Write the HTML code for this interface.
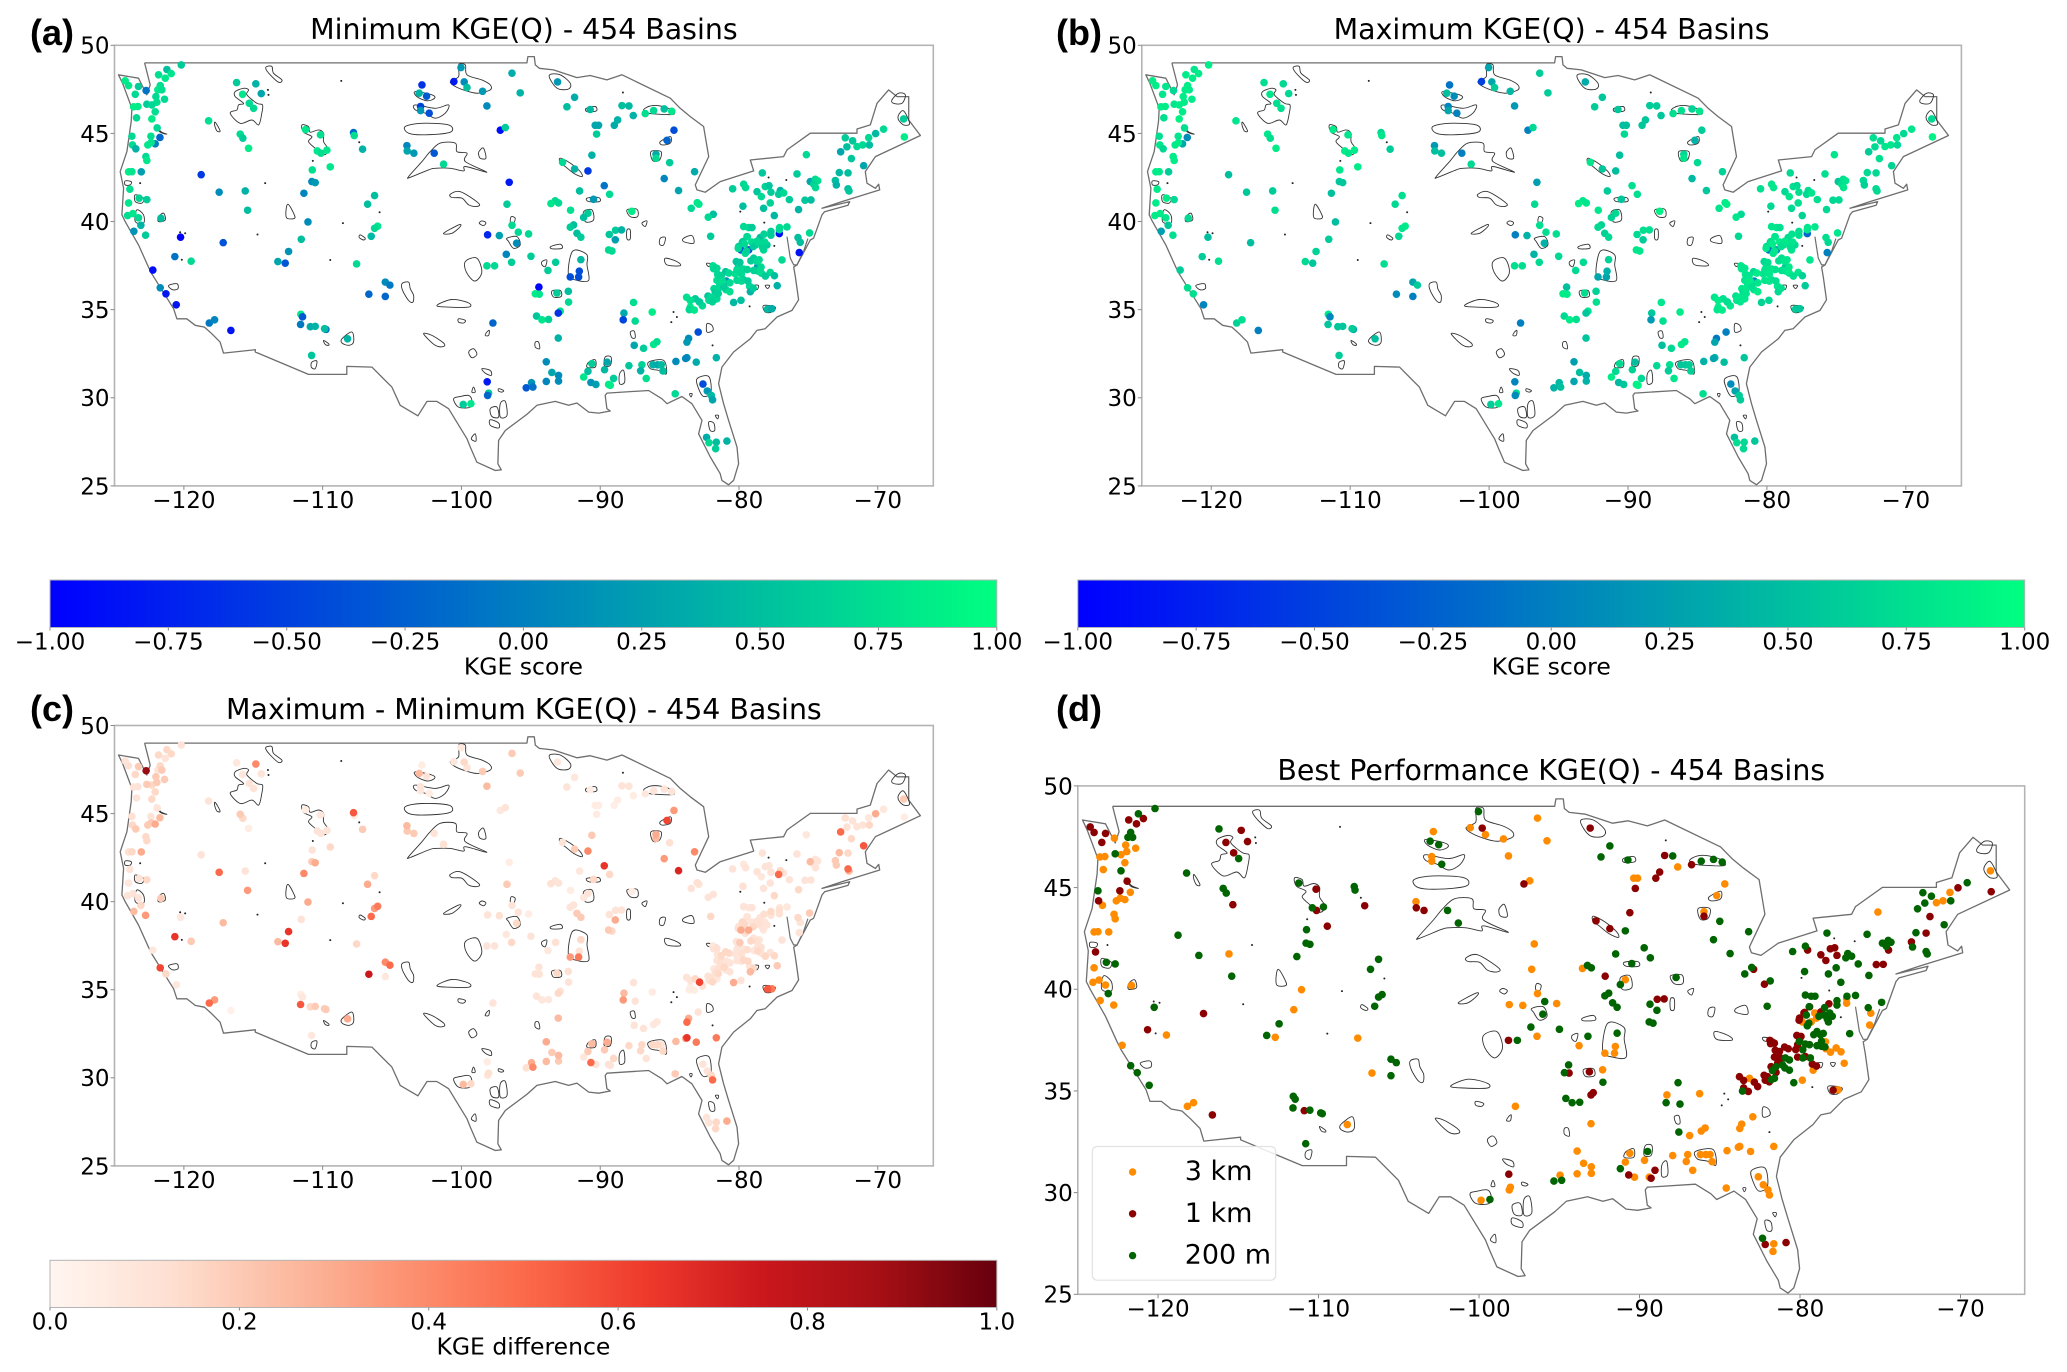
<!DOCTYPE html>
<html lang="en">
<head>
<meta charset="utf-8">
<title>KGE(Q) maps - 454 Basins</title>
<style>
html,body{margin:0;padding:0;background:#fff;}
svg{display:block;}
text{font-family:"DejaVu Sans","Liberation Sans",sans-serif;fill:#000;}
.panel-letter{font-family:"Liberation Sans",sans-serif;font-weight:bold;font-size:36px;}
</style>
</head>
<body>
<svg id="figure" xmlns="http://www.w3.org/2000/svg" width="2067" height="1372" viewBox="0 0 2067 1372">
<rect x="0" y="0" width="2067" height="1372" fill="#fff"/>
<defs id="gradients"></defs>
</svg>
<script>
// ---- chart data (longitude / latitude in degrees, KGE values per basin) ----
const siteLon = [
-120.26,-121.29,-121.89,-120.98,-121.41,-124.28,-124.04,-123.33,-122.78,-121.77,
-121.94,-121.65,-123.56,-122.08,-121.46,-122.01,-122.73,-122.37,-123.68,-123.37,
-122.13,-122.37,-123.47,-121.99,-123.80,-122.44,-121.79,-122.13,-122.42,-122.66,
-123.76,-123.52,-122.80,-122.73,-124.04,-123.80,-123.13,-123.95,-123.28,-122.73,
-124.04,-124.11,-123.73,-123.33,-121.72,-123.16,-123.66,-122.82,-120.31,-120.72,
-119.55,-117.25,-116.29,-114.91,-115.86,-114.52,-115.38,-115.07,-118.30,-116.03,
-115.84,-115.43,-118.83,-117.54,-115.67,-115.50,-111.34,-110.27,-110.50,-110.24,
-109.81,-110.86,-109.57,-110.89,-110.65,-111.46,-111.17,-111.65,-112.56,-113.33,
-112.80,-107.90,-107.85,-107.25,-106.39,-106.89,-106.17,-106.39,-106.63,-107.68,
-102.99,-103.19,-102.66,-103.09,-103.09,-102.47,-104.07,-104.05,-103.57,-102.11,
-101.44,-100.19,-100.70,-99.96,-99.76,-98.64,-98.33,-96.53,-95.94,-97.37,
-97.01,-96.73,-96.89,-96.53,-96.08,-98.28,-97.44,-96.20,-96.94,-96.56,
-98.33,-97.78,-122.30,-121.77,-121.36,-120.62,-118.25,-117.87,-116.70,-111.68,
-111.56,-111.70,-111.00,-110.65,-109.88,-109.98,-108.33,-110.91,-105.62,-105.29,
-106.80,-105.62,-97.90,-98.31,-98.21,-98.28,-100.03,-99.48,-95.51,-93.26,
-92.04,-92.59,-90.92,-88.64,-88.14,-88.95,-89.19,-87.83,-90.56,-90.32,
-90.46,-86.97,-86.37,-85.61,-85.07,-84.91,-85.41,-90.80,-92.90,-92.04,
-91.08,-86.20,-86.20,-85.22,-83.43,-85.61,-84.58,-89.91,-91.68,-89.53,
-90.68,-93.43,-93.74,-93.19,-92.33,-91.08,-91.39,-87.93,-92.11,-92.35,
-91.87,-91.59,-95.34,-89.10,-88.67,-89.55,-89.12,-89.60,-89.36,-95.17,
-93.40,-91.59,-83.24,-83.12,-83.67,-82.09,-82.45,-82.28,-80.70,-79.91,
-79.77,-79.96,-78.57,-76.08,-75.41,-78.95,-78.36,-78.09,-78.64,-77.95,
-78.00,-78.48,-77.28,-77.40,-77.04,-76.63,-77.71,-75.97,-75.51,-75.08,
-75.13,-74.77,-74.60,-74.89,-74.75,-79.91,-79.55,-79.31,-78.72,-77.95,
-77.33,-76.80,-77.35,-76.01,-75.85,-75.18,-75.92,-79.67,-79.96,-80.27,
-80.10,-79.55,-79.79,-79.07,-78.48,-78.24,-80.44,-79.19,-79.39,-78.91,
-80.27,-77.16,-82.11,-72.62,-72.09,-72.50,-71.78,-71.37,-70.89,-70.94,
-70.44,-69.87,-68.43,-68.38,-72.95,-72.18,-71.30,-73.05,-72.42,-73.33,
-73.26,-72.42,-72.35,-93.95,-92.35,-91.75,-91.70,-94.60,-94.86,-94.57,
-93.31,-92.49,-92.47,-93.07,-93.21,-94.77,-94.38,-93.91,-93.21,-95.13,
-95.03,-94.07,-93.67,-93.19,-93.19,-94.07,-90.80,-91.08,-90.87,-90.51,
-91.39,-89.70,-89.89,-89.24,-89.60,-89.48,-87.81,-88.50,-88.55,-86.47,
-87.69,-87.76,-87.09,-86.37,-86.13,-88.14,-87.21,-87.30,-86.90,-86.42,
-86.08,-85.82,-85.70,-84.77,-83.98,-84.07,-83.31,-81.87,-83.86,-83.98,
-83.17,-82.83,-82.52,-82.23,-82.14,-84.82,-82.57,-82.40,-81.87,-81.92,
-81.11,-84.00,-83.38,-83.07,-83.74,-83.81,-83.45,-82.47,-82.40,-82.02,
-81.83,-82.04,-81.95,-81.83,-81.63,-81.18,-81.20,-80.63,-80.10,-81.15,
-80.39,-79.91,-79.48,-79.43,-80.51,-80.39,-79.91,-79.19,-78.64,-78.00,
-77.50,-78.19,-77.88,-82.07,-81.78,
-81.83,-81.52,-81.62,-81.42,-81.73,-81.32,-80.90,-80.90,-81.73,-80.28,
-80.07,-79.65,-80.07,-79.60,-80.18,-80.97,-79.22,-78.97,-78.80,-78.90,
-78.70,-78.66,-78.35,-77.70,-79.65,-80.00,-80.30,-79.70,-79.85,-79.33,
-79.22,-78.95,-78.45,-78.75,-78.40,-78.55,-77.95,-77.35,-82.26,-82.15,
-83.74,-82.87,-83.10];
const siteLat = [
48.91,48.65,48.35,48.42,48.16,48.01,47.74,47.69,47.46,47.74,
47.50,47.50,47.25,47.12,46.97,46.80,46.69,46.65,46.54,46.56,
46.26,45.86,45.92,45.35,44.88,44.88,44.81,44.45,44.52,44.39,
44.39,44.17,43.73,43.51,42.87,42.88,42.87,41.89,41.38,41.30,
41.11,40.40,40.51,40.27,40.25,39.85,39.51,39.29,39.18,38.08,
37.82,38.87,47.91,47.84,47.25,47.29,46.74,46.46,45.75,45.00,
44.77,44.20,42.71,41.72,41.79,40.70,45.26,44.96,44.05,43.92,
44.09,42.98,43.15,42.32,42.26,41.66,40.04,39.06,38.37,37.80,
37.71,45.09,44.92,44.15,41.53,41.04,39.80,39.68,39.23,37.67,
47.78,47.31,47.14,46.56,46.33,46.18,44.35,44.05,43.92,43.92,
43.30,48.76,47.97,47.95,47.63,47.42,46.59,48.44,47.33,45.22,
45.37,42.28,41.04,39.85,39.46,39.31,39.27,38.84,38.21,37.76,
37.56,37.56,37.32,36.32,35.98,35.36,34.33,34.51,33.91,34.82,
34.68,34.25,34.12,34.14,33.97,34.01,33.44,32.50,36.64,36.47,
35.96,35.83,34.33,31.01,30.37,30.24,29.73,29.77,30.67,47.95,
47.08,46.54,46.39,46.61,46.59,45.80,45.50,46.05,45.50,45.50,
45.00,46.16,46.33,46.42,46.29,45.22,44.65,43.81,43.41,43.03,
42.92,43.86,43.64,43.39,42.88,42.49,41.81,42.09,41.79,41.60,
41.32,41.23,41.08,41.11,40.70,40.53,40.29,40.64,39.87,39.74,
39.40,39.18,39.36,39.57,39.59,39.33,39.03,38.46,38.40,38.10,
37.76,37.91,41.13,41.04,40.81,40.47,40.31,39.23,41.91,42.17,
41.98,40.93,42.81,42.75,43.84,41.75,42.04,42.09,41.47,41.72,
41.11,40.81,41.81,41.60,41.68,41.30,40.40,40.74,41.27,41.28,
42.32,42.45,42.36,42.17,41.98,39.78,39.72,39.72,39.16,39.29,
39.72,39.76,39.38,39.16,38.89,39.42,38.31,39.21,38.93,38.65,
38.46,38.46,38.27,38.74,38.46,38.74,37.80,37.99,37.84,37.52,
37.56,37.89,37.56,44.79,44.62,44.28,44.30,44.39,44.39,44.80,
45.03,45.28,45.86,44.84,44.00,43.62,43.22,42.83,42.81,42.38,
42.13,41.91,41.79,37.30,36.93,36.93,37.26,36.36,35.98,35.96,
36.02,36.12,35.51,35.00,34.89,34.72,34.51,34.53,33.48,30.96,
30.71,32.14,31.54,31.37,31.05,31.03,32.03,31.60,30.97,30.86,
31.28,32.12,31.69,31.20,30.86,30.81,35.49,34.89,34.51,34.95,
34.44,33.07,32.90,33.12,33.27,31.92,31.97,31.63,31.20,31.97,
31.97,31.97,31.62,32.16,32.37,32.33,32.12,32.37,33.46,33.25,
33.82,30.88,30.49,30.24,29.99,30.33,27.87,27.57,27.60,27.23,
27.66,35.78,35.70,35.51,35.23,35.08,35.06,35.85,35.61,35.64,
35.70,36.27,36.08,36.74,36.45,36.21,37.23,35.49,35.61,36.70,
36.74,36.77,36.40,36.10,37.11,37.34,37.38,37.30,37.15,37.19,
36.44,35.12,35.14,37.40,37.08,
37.42,37.01,36.68,36.68,36.27,36.35,36.60,36.10,35.99,37.50,
37.10,37.35,36.70,36.70,37.75,37.15,36.30,37.83,37.90,37.27,
37.24,37.49,36.98,37.00,39.20,38.90,38.55,38.40,38.80,38.90,
38.65,38.95,39.35,38.80,38.90,38.60,39.50,39.60,35.78,35.53,
35.60,35.30,35.53];
const kgeMin = [
.6,.5,.75,.8,.8,.85,.8,.6,-.1,.75,
.8,.75,.7,.7,.7,.75,.6,.7,.85,.85,
.75,.85,.7,.7,.7,.75,-.2,0,.8,.8,
.7,.4,.7,.8,.85,.8,.25,.75,.65,.6,
.8,.75,.8,.7,.5,.4,.15,.6,-1,-.1,
.7,-.35,.6,.4,.8,.3,.7,.7,.75,.7,
.6,.85,-.55,.1,.4,.5,.8,.75,.8,.75,
.8,.75,.8,.1,.2,.05,.1,.5,.15,.3,
-.3,-.15,.75,.4,.5,.5,.8,.7,.45,.7,
-.6,.4,-.3,-.5,.2,-.4,.05,.3,.2,-.3,
.7,.2,-.8,.1,.5,.2,.1,.35,.4,-.9,
.6,-.8,.6,.7,.7,-.7,.25,.1,.05,.6,
.7,.7,-.9,.1,-.8,-.85,-.05,.05,-.85,.8,
-.3,-.05,.35,.4,-.1,.5,.4,.55,.1,-.05,
-.2,-.2,-.2,-.8,.6,-.2,.6,.8,-.3,.2,
.35,.5,.45,.5,.45,.4,.35,.4,.3,.3,
.6,.75,.7,.5,.8,-.4,-.2,.4,.7,.4,
-.55,.35,.7,.6,.35,.05,.3,-.1,.5,.7,
.2,.7,.8,.7,.75,.6,.5,.85,.5,.6,
.5,.6,.7,.6,.4,.55,.25,.7,.7,.6,
.6,.45,.8,.8,.7,.5,.7,.6,.6,.7,
.7,.5,.55,.6,.7,.55,.65,.55,.7,.6,
.65,.5,.4,.6,.7,.6,.45,.4,.55,.5,
.3,.7,.75,.65,.7,.7,.7,.6,.5,.6,
.75,.7,-.9,.5,.5,.7,-.85,.6,.5,.6,
-.3,-.5,.7,.55,.7,.6,.55,.6,.6,.2,
.2,.7,.75,.6,.55,.5,.7,.7,.5,.7,
.45,.7,.6,.85,.3,.55,.3,.45,.5,.5,
.4,.5,.55,.6,-.4,-.4,-.4,-.95,.85,.8,
.6,.5,.7,.75,-.6,.55,.8,.65,.4,.15,
-.1,.1,.3,.1,.1,.05,.6,.5,.15,.25,
.8,.3,.45,.6,.85,.85,.75,.35,-.45,.85,
.7,.3,.6,.8,.75,.55,.65,.4,.75,.4,
.35,.45,.5,.1,.15,.05,.35,.4,.1,.2,
-.4,-.4,.2,.45,.3,.7,.35,.7,.5,.6,
.4,.75,.6,.4,.8,.7,.8,.55,.7,.7,
.7,.7,.6,.75,.75,.75,.55,.45,.5,.1,
.7,.6,.7,.4,.75,.7,.7,.65,.6,.7,
.4,.45,.35,.7,.7,
.7,.65,.7,.75,.7,.6,.7,.75,.65,.7,
.7,.65,.7,.6,.55,.7,.6,.7,.7,.65,
.75,.7,.6,.5,.7,.6,.7,.65,.7,.75,
.6,.7,.65,.7,.7,.65,.6,.7,.7,.65,
.75,.7,.6];
const kgeMax = [
.85,.8,.85,.85,.85,.85,.85,.8,.7,.85,
.85,.85,.8,.85,.85,.85,.8,.85,.85,.85,
.85,.9,.75,.75,.75,.8,.1,.3,.85,.85,
.8,.7,.85,.85,.85,.85,.6,.85,.85,.7,
.85,.85,.85,.8,.7,.55,.25,.75,.5,.6,
.75,.5,.75,.7,.8,.7,.75,.75,.8,.8,
.75,.85,.5,.55,.6,.75,.85,.8,.85,.8,
.85,.8,.85,.55,.55,.5,.5,.6,.65,.7,
.55,.7,.8,.6,.75,.7,.85,.8,.7,.75,
-.1,.5,.1,.05,.3,0,.2,.5,.5,0,
.7,.3,-.5,.3,.6,.45,.2,.6,.6,0,
.7,.25,.7,.75,.75,0,.4,.4,.4,.7,
.75,.75,.6,.75,.75,.05,.65,.75,0,.8,
.05,.55,.55,.55,.3,.6,.5,.6,.3,.6,
.1,0,0,.05,.7,.1,.6,.8,.4,.35,
.55,.6,.55,.6,.6,.55,.55,.55,.5,.5,
.7,.75,.75,.65,.8,.6,.4,.5,.8,.55,
.5,.7,.8,.7,.65,.45,.55,.75,.6,.75,
.55,.8,.85,.8,.8,.7,.65,.9,.65,.7,
.65,.7,.75,.75,.75,.7,.6,.8,.8,.7,
.7,.65,.85,.85,.8,.7,.8,.7,.75,.8,
.8,.7,.7,.75,.8,.7,.75,.7,.8,.75,
.75,.7,.7,.7,.8,.75,.65,.7,.7,.7,
.55,.75,.8,.75,.8,.8,.8,.75,.7,.75,
.8,.8,-.2,.75,.7,.8,0,.75,.7,.7,
-.1,.1,.8,.7,.8,.7,.7,.75,.75,.6,
.6,.8,.8,.75,.7,.7,.8,.8,.7,.8,
.7,.8,.7,.9,.6,.75,.65,.7,.7,.7,
.65,.7,.7,.7,.3,.3,.4,.5,.85,.85,
.75,.65,.75,.8,.55,.7,.85,.75,.55,.45,
.5,.25,.5,.35,.4,.3,.7,.7,.45,.55,
.85,.5,.65,.7,.9,.9,.8,.55,.2,.85,
.75,.5,.7,.85,.8,.7,.75,.6,.8,.55,
.55,.6,.65,.4,.45,.3,.5,.55,-.05,.3,
0,.1,.3,.6,.6,.75,.5,.75,.7,.7,
.55,.8,.75,.65,.85,.8,.85,.75,.8,.8,
.8,.8,.75,.8,.8,.8,.7,.65,.7,.05,
.8,.75,.8,.7,.8,.8,.8,.75,.75,.8,
.6,.6,.55,.8,.8,
.82,.8,.82,.85,.82,.75,.8,.85,.8,.8,
.82,.78,.8,.75,.75,.85,.75,.82,.8,.8,
.85,.82,.75,.65,.8,.75,.82,.8,.85,.85,
.75,.82,.78,.82,.8,.75,.75,.82,.82,.8,
.85,.82,.75];
const kgeDiff = [
.1,.15,.15,.15,.1,.1,.12,.2,.9,.15,
.1,.2,.15,.2,.2,.2,.2,.15,.1,.1,
.15,.15,.1,.1,.12,.1,.25,.3,.2,.2,
.15,.2,.15,.15,.12,.15,.3,.1,.1,.15,
.08,.1,.1,.1,.2,.15,.25,.35,.08,.65,
.2,.25,.08,.4,.08,.1,.1,.1,.1,.2,
.15,.05,.1,.5,.1,.35,.05,.08,.1,.1,
.1,.1,.15,.2,.3,.4,.3,.1,.65,.25,
.65,.55,.05,.2,.15,.3,.45,.35,.5,.15,
.05,.25,.1,.1,.08,.05,.25,.2,.2,.1,
.12,.08,.08,.15,.1,.2,.25,.2,.2,.08,
.1,.05,.2,.1,.1,.1,.12,.15,.08,.15,
.1,.1,.08,.6,.15,.08,.5,.35,.03,.05,
.08,.55,.15,.2,.2,.2,.3,.08,.4,.5,
.75,.08,.1,.05,.12,.08,.25,.15,.12,.08,
.08,.1,.05,.1,.1,.05,.04,.05,.05,.05,
.06,.08,.1,.1,.1,.35,.6,.2,.1,.2,
.4,.3,.25,.12,.4,.35,.7,.65,.08,.15,
.15,.1,.12,.1,.05,.1,.08,.05,.1,.1,
.2,.2,.05,.1,.1,.1,.3,.2,.15,.1,
.12,.15,.12,.1,.1,.1,.1,.15,.1,.08,
.1,.12,.1,.1,.08,.1,.1,.1,.08,.1,
.1,.1,.15,.5,.1,.1,.15,.15,.1,.1,
.25,.1,.1,.08,.1,.1,.08,.1,.1,.1,
.08,.08,.12,.15,.1,.2,.1,.1,.12,.12,
.3,.3,.1,.1,.08,.1,.1,.1,.15,.1,
.1,.1,.08,.12,.1,.12,.1,.1,.15,.08,
.3,.08,.2,.05,.5,.15,.55,.25,.15,.2,
.2,.5,.25,.08,.35,.45,.1,.1,.1,.1,
.15,.12,.1,.1,.15,.1,.08,.08,.25,.3,
.4,.3,.2,.25,.2,.25,.25,.2,.5,.1,
.08,.3,.2,.15,.1,.1,.1,.25,.35,.06,
.1,.1,.1,.08,.08,.15,.15,.15,.1,.15,
.15,.1,.15,.25,.65,.3,.45,.45,.3,.5,
.1,.1,.1,.15,.5,.2,.1,.1,.15,.15,
.3,.1,.15,.6,.05,.05,.05,.1,.1,.08,
.08,.08,.12,.1,.08,.1,.15,.3,.1,.1,
.1,.15,.1,.25,.1,.1,.1,.08,.1,.1,
.2,.55,.45,.1,.1,
.12,.15,.12,.1,.12,.15,.1,.1,.15,.1,
.12,.13,.1,.15,.2,.15,.15,.12,.1,.15,
.1,.12,.15,.15,.1,.15,.12,.15,.15,.1,
.15,.12,.13,.12,.1,.1,.15,.12,.12,.15,
.1,.12,.15];
// index into resolutionLabels: 0 = 3 km, 1 = 1 km, 2 = 200 m
const bestRes = [
2,2,1,1,1,1,1,1,0,2,
2,2,1,0,0,0,2,0,0,0,
0,2,0,1,2,1,0,0,0,0,
1,0,0,0,0,0,0,1,2,2,
0,0,0,0,0,2,0,0,2,1,
0,1,2,1,1,1,1,2,2,2,
2,1,2,2,0,2,2,1,2,1,
2,2,1,2,2,2,0,0,2,2,
0,2,2,1,2,2,2,2,2,0,
0,2,2,0,0,2,0,1,1,2,
2,2,0,1,0,0,0,0,0,1,
0,0,0,0,2,0,0,2,2,0,
1,2,0,2,2,2,0,0,1,2,
2,2,1,2,2,2,0,2,2,2,
0,2,0,1,0,0,0,2,2,1,
2,2,2,1,2,1,1,0,0,0,
1,1,2,2,2,0,0,1,1,1,
2,0,1,2,2,2,2,2,2,2,
2,2,0,2,1,0,2,2,2,2,
2,2,0,1,1,2,2,2,2,2,
2,2,2,1,2,2,1,2,2,2,
1,2,2,2,0,1,1,1,1,1,
2,2,2,2,2,2,2,2,1,1,
2,2,2,2,1,2,2,2,2,2,
2,2,0,2,0,2,0,2,1,1,
0,0,2,2,2,2,1,2,2,2,
1,2,1,2,2,2,0,0,2,0,
1,2,0,1,2,1,2,2,1,1,
2,2,2,0,0,0,0,2,2,1,
1,0,2,1,1,2,2,2,0,0,
2,0,0,0,0,0,0,0,1,0,
2,2,0,1,0,1,2,0,2,0,
2,2,0,0,0,0,0,0,0,0,
0,0,0,0,0,0,0,0,0,0,
0,0,0,0,0,0,2,1,0,0,
1,1,0,1,1,2,1,1,1,2,
2,1,2,1,1,2,1,2,0,2,
1,1,1,0,1,1,2,2,0,0,
0,1,0,1,1,
1,1,1,1,2,2,2,2,1,2,
2,2,2,2,1,1,1,2,2,2,
2,0,0,0,1,1,1,2,2,0,
0,1,1,2,2,2,2,0,1,1,
1,1,0];
const resolutionLabels = ['3 km','1 km','200 m'];
const xTickValues = [-120,-110,-100,-90,-80,-70];
const yTickValues = [25,30,35,40,45,50];
const scoreTicks = [-1,-.75,-.5,-.25,0,.25,.5,.75,1];
const diffTicks = [0,.2,.4,.6,.8,1];
const borderLon = [-122.89,-95.46,-95.39,-94.93,-94.86,-94.57,-93.55,-91.87,-90.92,-89.72,-88.64,-85.17,-84.46,-83.74,-82.78,-82.42,-83.38,-83.26,-82.66,-81.59,-79.19,-79.43,-77.04,-76.80,-75.13,-71.78,-71.78,-70.82,-70.34,-69.51,-68.91,-68.07,-68.07,-67.23,-70.46,-71.18,-71.06,-70.46,-70.22,-70.15,-72.86,-74.29,-72.30,-72.42,-74.10,-74.29,-74.89,-75.13,-76.08,-76.32,-76.20,-75.97,-76.44,-77.52,-78.36,-78.96,-79.43,-80.63,-81.47,-81.71,-81.35,-80.99,-80.39,-80.27,-80.63,-80.99,-81.47,-81.59,-82.30,-83.14,-82.90,-83.62,-84.34,-85.41,-85.77,-86.73,-89.72,-89.84,-89.72,-89.48,-90.32,-91.03,-91.87,-92.47,-93.43,-94.74,-95.46,-97.01,-97.49,-97.54,-97.30,-97.73,-99.05,-99.52,-99.76,-101.08,-101.92,-102.63,-103.28,-104.55,-105.15,-106.58,-108.38,-108.38,-111.13,-114.95,-114.95,-117.23,-117.47,-118.06,-118.59,-119.26,-119.86,-120.57,-120.81,-122.37,-122.61,-123.33,-124.28,-124.52,-124.40,-124.64,-124.16,-123.85,-123.80,-124.47,-124.76,-123.33,-122.73,-122.49,-122.89];
const borderLat = [49.02,49.02,49.38,49.38,48.91,48.72,48.63,48.19,48.31,48.06,48.35,47.03,46.46,45.99,45.43,43.73,42.13,41.85,41.72,42.32,42.92,43.54,43.73,44.11,45.05,45.05,45.29,45.52,46.74,47.50,47.12,47.12,45.80,44.92,43.73,42.88,42.23,41.94,42.17,41.85,41.19,40.81,41.19,40.98,40.62,40.44,39.12,39.02,37.61,37.49,36.93,35.64,35.04,34.67,34.01,33.91,33.44,32.69,31.84,30.90,29.77,28.83,27.32,26.38,25.44,25.19,25.44,25.82,26.76,28.07,28.83,29.77,30.18,29.77,30.05,30.52,30.37,30.24,29.49,29.36,29.24,29.30,29.81,29.68,29.90,29.68,29.17,28.26,27.70,26.38,26.04,26.00,26.47,27.32,27.79,29.49,29.90,29.90,29.09,29.68,30.71,31.84,31.88,31.43,31.43,32.69,32.82,32.63,33.25,33.72,34.10,34.20,34.57,34.57,35.14,37.11,37.49,38.74,40.06,40.44,41.94,42.88,44.01,45.71,46.46,47.87,48.35,48.16,47.22,47.78,49.02];
const baySideLon = [-76.80,-76.56,-76.32,-76.08,-75.60,-75.30];
const baySideLat = [39.21,37.99,37.61,37.61,38.40,39.10];
// basin outlines: each row is lon,lat,lon,lat,...
const basinOutlines = [
[-114.12,48.82,-113.76,48.82,-113.64,48.44,-113.04,48.06,-113.28,47.93,-113.88,48.35,-114.19,48.68],
[-116.39,47.40,-115.79,47.59,-115.43,47.50,-115.55,47.22,-114.83,46.74,-114.43,46.65,-114.48,46.18,-114.71,45.52,-115.19,45.80,-116.03,45.61,-116.75,46.18,-116.27,46.37,-116.15,46.65,-115.79,46.74,-116.39,47.12],
[-117.82,45.67,-117.47,45.18,-117.70,45.18,-117.87,45.52],
[-111.60,45.52,-111.13,45.43,-111.01,45.11,-110.41,45.24,-110.05,45.05,-110.05,44.58,-109.69,44.11,-110.05,43.83,-110.65,44.20,-111.13,44.58,-110.89,44.86,-111.49,45.11],
[-104.19,45.43,-103.00,45.61,-101.08,45.52,-100.96,45.11,-102.75,44.96,-103.95,45.05],
[-103.95,42.60,-102.99,43.45,-102.40,44.01,-101.68,44.49,-100.60,44.49,-100.48,44.01,-99.76,43.92,-99.88,43.45,-98.33,42.85,-99.88,43.17,-100.00,42.92,-100.96,43.07,-102.04,43.07,-102.52,42.98,-103.83,42.56],
[-98.81,44.11,-98.57,44.20,-98.40,43.64,-98.81,43.64,-98.93,43.92],
[-100.96,41.60,-100.24,41.75,-98.93,41.10,-99.05,40.91,-99.64,41.00,-100.12,41.38,-100.84,41.42],
[-101.44,39.40,-100.36,39.87,-100.24,39.78,-100.84,39.40],
[-112.61,41.04,-112.20,40.53,-112.13,40.25,-112.68,40.25,-112.75,40.62],
[-98.69,40.10,-98.40,40.00,-98.57,39.83,-98.88,39.97],
[-103.47,46.65,-102.04,46.46,-101.08,46.65,-101.32,46.18,-102.04,45.90,-102.75,46.18,-103.47,46.37],
[-103.47,47.40,-102.28,47.22,-102.08,47.03,-102.63,46.88,-103.35,47.12],
[-100.96,47.97,-100.36,48.25,-100.36,48.91,-99.88,48.91,-99.76,48.35,-98.69,48.06,-98.09,47.78,-98.09,47.50,-98.93,47.31,-99.64,47.40,-100.60,47.69],
[-122.13,45.52,-121.72,45.14,-121.29,45.00,-121.77,45.11],
[-124.28,42.36,-123.85,42.32,-123.92,42.13,-124.28,42.13],
[-123.56,41.57,-122.97,41.38,-123.09,41.10,-123.56,41.19],
[-123.45,40.72,-122.97,40.44,-122.97,39.97,-123.56,40.06],
[-121.89,40.34,-121.53,40.53,-121.41,40.15,-121.89,40.06],
[-107.42,39.31,-107.06,39.12,-107.18,39.02,-107.49,39.16],
[-96.58,40.34,-96.30,40.25,-96.42,39.97,-96.65,40.06],
[-96.89,39.12,-96.18,39.21,-95.94,38.74,-96.42,38.55,-96.77,38.93],
[-99.88,37.80,-99.05,37.99,-98.70,37.20,-99.20,36.70,-99.80,37.20],
[-104.43,36.55,-103.95,36.64,-103.83,36.27,-103.59,35.89,-103.64,35.51,-103.95,35.60,-104.38,36.17],
[-101.92,35.32,-100.84,35.66,-99.64,35.46,-99.64,35.23,-101.08,35.23],
[-102.87,33.72,-102.28,33.63,-101.44,33.20,-101.44,33.01,-102.04,33.07],
[-108.73,33.44,-108.02,33.82,-107.90,33.25,-108.26,33.07,-108.73,33.20],
[-100.36,34.57,-99.88,34.48,-100.00,34.33,-100.36,34.38],
[-99.64,32.69,-99.29,32.88,-99.05,32.56,-99.41,32.37],
[-98.69,31.75,-98.09,31.65,-98.02,31.37,-98.45,31.50],
[-100.72,30.05,-100.24,30.18,-99.64,30.24,-99.41,29.96,-99.52,29.58,-100.36,29.58],
[-98.09,29.49,-97.61,29.58,-97.49,29.02,-97.97,29.05],
[-97.37,29.77,-97.01,29.90,-96.89,29.11,-97.37,29.02],
[-98.09,28.87,-97.49,28.68,-97.49,28.40,-98.09,28.55],
[-99.45,27.79,-99.17,28.07,-99.12,27.66],
[-110.89,32.12,-110.53,32.18,-110.65,31.75,-110.93,31.84],
[-110.05,33.35,-109.69,33.16,-109.69,33.07,-109.93,33.12],
[-121.17,36.45,-120.57,36.55,-120.50,36.27,-120.89,36.21],
[-98.33,33.82,-98.16,33.91,-98.21,33.63,-98.45,33.63],
[-99.29,30.71,-99.17,30.43,-99.41,30.43],
[-97.49,30.62,-97.13,30.52,-97.25,30.43,-97.49,30.48],
[-93.83,48.35,-93.07,48.35,-92.35,47.87,-92.47,47.55,-93.19,47.55,-93.67,47.93],
[-91.20,46.46,-90.56,46.56,-90.48,46.31,-91.15,46.27],
[-87.09,46.37,-86.61,46.59,-85.89,46.59,-85.05,46.37,-84.93,46.12,-85.89,46.12,-86.73,46.18],
[-85.89,44.58,-85.17,44.86,-85.17,44.49,-85.77,44.39],
[-86.56,44.01,-85.84,44.01,-85.94,43.54,-86.42,43.49],
[-93.07,43.64,-92.35,43.36,-91.63,42.88,-91.51,42.60,-92.11,42.79,-92.71,43.17,-93.07,43.36],
[-91.15,41.38,-90.32,41.42,-90.25,41.19,-91.03,41.19],
[-88.28,40.72,-87.57,40.76,-87.52,40.34,-88.05,40.34],
[-87.21,39.97,-86.85,40.10,-86.97,39.78],
[-91.39,40.62,-90.80,40.72,-90.68,40.15,-91.27,40.06],
[-88.28,39.59,-88.05,39.59,-88.05,39.08,-88.28,39.08],
[-85.89,39.12,-85.53,39.16,-85.65,38.74,-85.94,38.78],
[-84.22,39.12,-83.62,39.27,-83.50,38.84,-84.22,38.93],
[-93.74,38.65,-93.07,38.78,-92.95,38.55,-93.67,38.52],
[-92.35,38.08,-91.99,38.46,-91.15,38.18,-91.15,37.61,-91.03,36.74,-91.87,36.74,-92.47,37.02],
[-94.38,37.80,-94.03,37.89,-94.14,37.52,-94.38,37.61],
[-69.27,46.93,-68.79,47.31,-68.31,47.22,-68.55,46.74,-69.15,46.74],
[-68.79,46.09,-68.43,46.31,-68.00,45.60,-68.43,45.52,-68.79,45.80],
[-85.53,37.99,-84.70,37.80,-84.46,37.57,-85.41,37.61],
[-82.54,37.71,-81.83,37.61,-82.42,37.52],
[-93.67,36.13,-93.07,36.17,-93.00,35.83,-93.55,35.80],
[-83.26,31.18,-82.42,31.31,-82.26,30.43,-82.78,30.18,-83.14,30.62],
[-82.54,34.29,-82.19,34.20,-82.11,33.91,-82.54,33.82],
[-94.86,33.25,-94.62,33.25,-94.55,32.88,-94.86,32.97],
[-88.04,33.82,-87.76,33.87,-87.69,33.50,-87.93,33.50],
[-88.81,31.46,-88.52,31.65,-88.45,30.99,-88.81,30.90],
[-82.42,28.73,-82.06,28.68,-81.99,28.26,-82.30,28.26],
[-81.94,29.11,-81.71,29.11,-81.78,28.92],
[-86.73,32.12,-85.65,32.22,-85.46,31.46,-86.00,31.65,-86.61,31.75],
[-79.19,36.45,-78.84,36.45,-78.96,36.21],
[-78.36,36.45,-78.05,36.45,-78.19,36.27],
[-78.48,35.32,-77.64,35.23,-77.88,34.95,-78.36,34.95],
[-83.79,30.33,-83.60,30.33,-83.69,30.15],
[-89.84,32.41,-89.43,32.41,-89.48,31.93,-89.91,31.93],
[-91.03,32.12,-90.56,32.25,-90.56,31.84,-91.15,31.84]
];
const speckLon = [-108.78,-107.49,-110.82,-114.24,-114.79,-108.66,-106.03,-109.57,-123.21,-114.04,-114.00,-120.34,-119.98,-120.22,-88.57,-80.15,-78.43,-77.71,-76.85,-78.12,-84.94,-85.10,-82.14,-79.48,-84.70];
const speckLat = [48.01,44.54,43.49,42.23,39.33,39.97,40.59,37.89,42.23,47.50,47.22,39.46,39.40,37.90,47.35,40.62,40.00,38.69,42.41,42.55,34.95,34.38,33.07,35.27,34.67];

// ---- layout ----
const NS = 'http://www.w3.org/2000/svg';
const LON0 = -125, LON1 = -66, LAT0 = 25, LAT1 = 50;
// digitisation calibration of the map coordinates against the axes
const LON_STRETCH = 1.0043, LON_SHIFT = 0.05, LAT_STRETCH = 1.0045, LAT_SHIFT = 0.017;
const figure = document.getElementById('figure');
const defs = document.getElementById('gradients');

function make(tag, attrs, parent, text){
  const el = document.createElementNS(NS, tag);
  for (const k in attrs) el.setAttribute(k, attrs[k]);
  if (text !== undefined) el.textContent = text;
  parent.appendChild(el);
  return el;
}
function minusLabel(s){ return String(s).replace('-', '\u2212'); }
function winter(v){
  const t = Math.max(0, Math.min(1, (v + 1) / 2));
  return 'rgb(0,' + Math.round(255 * t) + ',' + Math.round(255 - 127.5 * t) + ')';
}
const redStops = [[255,245,240],[254,224,210],[252,187,161],[252,146,114],[251,106,74],[239,59,44],[203,24,29],[165,15,21],[103,0,13]];
function reds(v){
  const t = Math.max(0, Math.min(1, v)) * (redStops.length - 1);
  const i = Math.min(redStops.length - 2, Math.floor(t));
  const f = t - i;
  const c = [0,1,2].map(function(k){ return Math.round(redStops[i][k] + (redStops[i+1][k] - redStops[i][k]) * f); });
  return 'rgb(' + c.join(',') + ')';
}
const resolutionColors = ['#ff8c00','#8b0000','#006400'];

function smoothClosedPath(pts){
  const n = pts.length;
  let d = 'M' + pts[0][0].toFixed(1) + ' ' + pts[0][1].toFixed(1);
  for (let i = 0; i < n; i++){
    const p0 = pts[(i - 1 + n) % n], p1 = pts[i], p2 = pts[(i + 1) % n], p3 = pts[(i + 2) % n];
    const c1x = p1[0] + (p2[0] - p0[0]) / 6, c1y = p1[1] + (p2[1] - p0[1]) / 6;
    const c2x = p2[0] - (p3[0] - p1[0]) / 6, c2y = p2[1] - (p3[1] - p1[1]) / 6;
    d += 'C' + c1x.toFixed(1) + ' ' + c1y.toFixed(1) + ' ' + c2x.toFixed(1) + ' ' + c2y.toFixed(1) + ' ' + p2[0].toFixed(1) + ' ' + p2[1].toFixed(1);
  }
  return d + 'Z';
}

function drawAxes(p){
  const g = make('g', {}, figure);
  
  
  const axisX = function(lon){ return p.left + (lon - LON0) / (LON1 - LON0) * (p.right - p.left); };
  const axisY = function(lat){ return p.bottom - (lat - LAT0) / (LAT1 - LAT0) * (p.bottom - p.top); };
  const x = function(lon){ return axisX(LON0 + (lon - LON0) * LON_STRETCH + LON_SHIFT); };
  const y = function(lat){ return axisY(LAT1 - (LAT1 - lat) * LAT_STRETCH - LAT_SHIFT); };

  const frame = make('rect', {x:p.left, y:p.top, width:p.right-p.left, height:p.bottom-p.top, fill:'none', stroke:'#b4b4b4', 'stroke-width':1.6}, g);
  
  

  xTickValues.forEach(function(v){
    const tick = make('line', {x1:axisX(v), x2:axisX(v), y1:p.bottom, y2:p.bottom+4, stroke:'#888', 'stroke-width':1}, g);
    
    
    const label = make('text', {x:axisX(v), y:p.bottom+22, 'font-size':23, 'text-anchor':'middle'}, g, minusLabel(v));
    
    
  });
  yTickValues.forEach(function(v){
    const tick = make('line', {x1:p.left-4, x2:p.left, y1:axisY(v), y2:axisY(v), stroke:'#888', 'stroke-width':1}, g);
    
    
    const label = make('text', {x:p.left-5, y:axisY(v)+8.4, 'font-size':23, 'text-anchor':'end'}, g, String(v));
    
    
  });

  const border = make('polyline', {points:borderLon.map(function(lon,i){ return x(lon).toFixed(1)+','+y(borderLat[i]).toFixed(1); }).join(' '), fill:'none', stroke:'#6e6e6e', 'stroke-width':1.3, 'stroke-linejoin':'round'}, g);
  
  
  const bay = make('polyline', {points:baySideLon.map(function(lon,i){ return x(lon).toFixed(1)+','+y(baySideLat[i]).toFixed(1); }).join(' '), fill:'none', stroke:'#6e6e6e', 'stroke-width':1.2}, g);
  
  

  basinOutlines.forEach(function(row){
    const pts = [];
    for (let i = 0; i < row.length; i += 2) pts.push([x(row[i]), y(row[i+1])]);
    const poly = make('path', {d:smoothClosedPath(pts), fill:'none', stroke:'#333', 'stroke-width':0.9, 'stroke-linejoin':'round'}, g);
    
    
  });
  speckLon.forEach(function(lon,i){
    const dot = make('circle', {cx:x(lon), cy:y(speckLat[i]), r:1, fill:'#222'}, g);
    
    
  });

  const title = make('text', {x:(p.left+p.right)/2, y:p.titleY, 'font-size':28.4, 'text-anchor':'middle'}, g, p.title);
  
  
  const letter = make('text', {x:p.letterX, y:p.letterY, 'class':'panel-letter'}, g, p.letter);
  
  
  return {g:g, x:x, y:y};
}

function drawSites(ax, values, colour, order){
  const idx = siteLon.map(function(_, i){ return i; });
  if (order) idx.sort(function(a, b){ return order(a) - order(b); });
  idx.forEach(function(i){
    const c = make('circle', {cx:ax.x(siteLon[i]), cy:ax.y(siteLat[i]), r:3.8, fill:colour(values[i])}, ax.g);
    
    
  });
}

function drawColorbar(cb){
  const grad = make('linearGradient', {id:'grad-'+cb.key, x1:0, x2:1, y1:0, y2:0}, defs);
  const steps = 40;
  for (let s = 0; s <= steps; s++){
    const f = s / steps;
    make('stop', {offset:f, 'stop-color':cb.colour(cb.min + f * (cb.max - cb.min))}, grad);
  }
  const g = make('g', {}, figure);
  
  
  const bar = make('rect', {x:cb.left, y:cb.top, width:cb.right-cb.left, height:cb.bottom-cb.top, fill:'url(#grad-'+cb.key+')', stroke:'#b4b4b4', 'stroke-width':1}, g);
  
  
  const cx = function(v){ return cb.left + (v - cb.min) / (cb.max - cb.min) * (cb.right - cb.left); };
  cb.ticks.forEach(function(v){
    const tick = make('line', {x1:cx(v), x2:cx(v), y1:cb.bottom, y2:cb.bottom+3, stroke:'#888', 'stroke-width':1}, g);
    
    
    const label = make('text', {x:cx(v), y:cb.bottom+22, 'font-size':23, 'text-anchor':'middle'}, g, minusLabel(v.toFixed(cb.digits)));
    
    
  });
  const name = make('text', {x:(cb.left+cb.right)/2, y:cb.bottom+47, 'font-size':23.5, 'text-anchor':'middle'}, g, cb.label);
  
  
}

// ---- panels ----
const axA = drawAxes({key:'a', left:114.5, right:933.3, top:45.3, bottom:485.9, title:'Minimum KGE(Q) - 454 Basins', titleY:39, letter:'(a)', letterX:30, letterY:45});
drawSites(axA, kgeMin, winter);
const axB = drawAxes({key:'b', left:1141.8, right:1961.4, top:45.3, bottom:485.9, title:'Maximum KGE(Q) - 454 Basins', titleY:39, letter:'(b)', letterX:1056, letterY:45});
drawSites(axB, kgeMax, winter);
const axC = drawAxes({key:'c', left:114.5, right:933.3, top:725.5, bottom:1165.9, title:'Maximum - Minimum KGE(Q) - 454 Basins', titleY:719, letter:'(c)', letterX:30, letterY:721});
drawSites(axC, kgeDiff, reds, function(i){ return kgeDiff[i]; });
const axD = drawAxes({key:'d', left:1077.8, right:2024.7, top:785.9, bottom:1294.3, title:'Best Performance KGE(Q) - 454 Basins', titleY:780, letter:'(d)', letterX:1056, letterY:721});
drawSites(axD, bestRes, function(r){ return resolutionColors[r]; }, function(i){ return bestRes[i]; });

drawColorbar({key:'a', left:50, right:996.8, top:580, bottom:627.5, min:-1, max:1, ticks:scoreTicks, digits:2, label:'KGE score', colour:winter});
drawColorbar({key:'b', left:1077.8, right:2024.7, top:580, bottom:627.5, min:-1, max:1, ticks:scoreTicks, digits:2, label:'KGE score', colour:winter});
drawColorbar({key:'c', left:50, right:996.8, top:1260.3, bottom:1307.5, min:0, max:1, ticks:diffTicks, digits:1, label:'KGE difference', colour:reds});

// ---- legend (panel d) ----
const legend = make('g', {}, figure);


const legendBox = make('rect', {x:1092.3, y:1146.5, width:183.4, height:133.7, rx:5, fill:'#fff', 'fill-opacity':.85, stroke:'#e2e2e2', 'stroke-width':1.2}, legend);


resolutionLabels.forEach(function(name, i){
  const cy = 1172 + i * 41.8;
  const m = make('circle', {cx:1132.6, cy:cy, r:3.7, fill:resolutionColors[i]}, legend);
  
  
  const t = make('text', {x:1184.7, y:cy+8, 'font-size':27}, legend, name);
  
  
});
</script>
</body>
</html>
